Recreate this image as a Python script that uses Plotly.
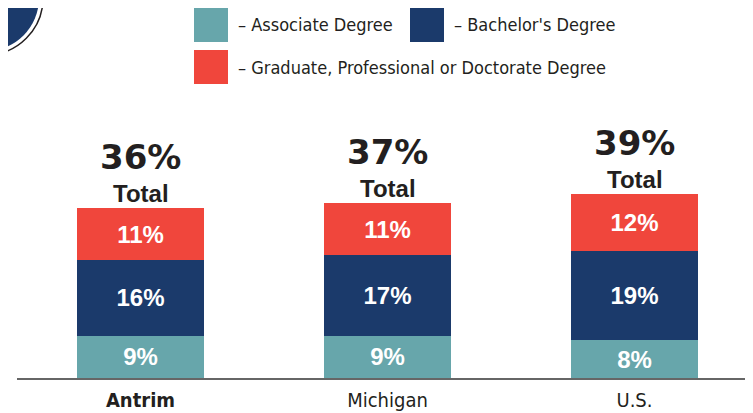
import plotly.graph_objects as go

categories = ["Antrim", "Michigan", "U.S."]
tick_labels = ["<b>Antrim</b>", "Michigan", "U.S."]
series_names = ["Associate Degree", "Bachelor's Degree", "Graduate, Professional or Doctorate Degree"]
associate = [9, 9, 8]
bachelor = [16, 17, 19]
graduate = [11, 11, 12]
colors = ["#67A6AB", "#1B3A6B", "#F0463C"]

W, H = 753, 413
OFF = 8  # page body margin: window pixel = figure pixel + OFF
BASE = 378  # baseline in window pixels
ML = 17 - OFF
MB = H - (BASE - OFF)
PW, PH = W - ML, H - MB
SCALE = 4.72  # px per percentage point
CENTER0 = 140.5 - OFF
STEP = 247


def px(x):
    return (x - OFF - ML) / PW


def py(y):
    return (PH - (y - OFF)) / PH


fig = go.Figure()
for name, vals, col in zip(series_names, [associate, bachelor, graduate], colors):
    fig.add_trace(go.Bar(
        x=categories, y=vals, name=name, marker=dict(color=col, line=dict(width=0)),
        width=127 / STEP, texttemplate="%{y}%", textposition="inside",
        insidetextanchor="middle", textangle=0, constraintext="none",
        textfont=dict(family="Liberation Sans, Arial, sans-serif", size=24, color="white", weight="bold"),
        showlegend=False, hoverinfo="skip",
    ))

totals = [a + b + g for a, b, g in zip(associate, bachelor, graduate)]
annotations = []
for cat, tot in zip(categories, totals):
    annotations.append(dict(x=cat, y=tot, xref="x", yref="y", text="Total", showarrow=False,
                            yanchor="bottom", xanchor="center", yshift=-1,
                            font=dict(family="Liberation Sans, Arial, sans-serif", size=24, color="#231F20", weight="bold")))
    annotations.append(dict(x=cat, y=tot, xref="x", yref="y", text=f"{tot}%", showarrow=False,
                            yanchor="bottom", xanchor="center", yshift=29,
                            font=dict(family="DejaVu Sans, sans-serif", size=34, color="#231F20", weight="bold")))

# legend (manual)
cond = "DejaVu Sans Condensed, Liberation Sans Narrow, Roboto, sans-serif"
legend_font = dict(family=cond, size=18, color="#231F20")
legend_pos = [(194, 8, 236, 25), (410, 8, 452, 25), (194, 50, 236, 67)]
shapes = []
for (sx, sy, tx, ty), col, name in zip(legend_pos, colors, series_names):
    shapes.append(dict(type="rect", xref="paper", yref="paper", x0=px(sx), x1=px(sx + 34),
                       y0=py(sy + 34), y1=py(sy), fillcolor=col, line=dict(width=0)))
    annotations.append(dict(x=px(tx), y=py(ty), xref="paper", yref="paper", text="– " + name,
                            showarrow=False, xanchor="left", yanchor="middle", font=legend_font))

# badge in the corner
cx, cy = -14, -2
for r, fill, lc, lw in [(57, "white", "#231F20", 1.5), (53, "#1B3A6B", "#1B3A6B", 0)]:
    shapes.append(dict(type="circle", xref="paper", yref="paper", x0=px(cx - r), x1=px(cx + r),
                       y0=py(cy + r), y1=py(cy - r), fillcolor=fill, line=dict(color=lc, width=lw), layer="above"))

fig.update_layout(
    width=W, height=H, margin=dict(l=ML, r=0, t=0, b=MB, autoexpand=False),
    paper_bgcolor="white", plot_bgcolor="white", barmode="stack",
    showlegend=False, annotations=annotations, shapes=shapes,
    xaxis=dict(type="category", range=[(ML - CENTER0) / STEP, (W - CENTER0) / STEP],
               tickvals=categories, ticktext=tick_labels,
               showline=True, linecolor="#666666", linewidth=2, ticks="", showgrid=False, zeroline=False,
               ticklabelstandoff=3, automargin=False,
               tickfont=dict(family=cond, size=20, color="#231F20")),
    yaxis=dict(range=[0, PH / SCALE], visible=False, showgrid=False, zeroline=False),
)

fig.write_html("out.html")
